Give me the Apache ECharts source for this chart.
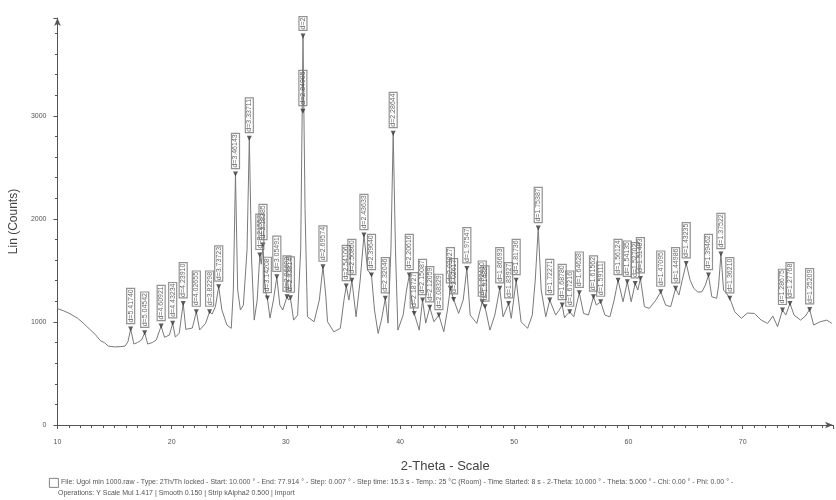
<!DOCTYPE html>
<html>
<head>
<meta charset="utf-8">
<script src="https://cdn.jsdelivr.net/npm/echarts@6/dist/echarts.min.js"></script>
<style>html,body{margin:0;padding:0;background:#fff}#c{width:836px;height:500px}</style>
</head>
<body>
<div id="c"></div>
<script>
// 2-Theta positions of the traced pattern
const twoTheta = [10.00,10.50,11.00,11.74,12.30,12.89,13.30,13.76,13.93,14.10,14.45,15.00,15.48,15.92,16.17,16.41,16.69,17.00,17.36,17.64,17.90,18.30,18.65,19.08,19.37,19.80,20.09,20.32,20.66,21.01,21.24,21.81,22.16,22.45,22.97,23.32,23.54,23.83,24.12,24.40,24.84,25.22,25.40,25.59,25.78,26.02,26.28,26.60,26.80,27.00,27.23,27.49,27.72,27.85,28.00,28.18,28.38,28.61,28.91,29.21,29.47,29.73,30.10,30.25,30.40,30.68,31.03,31.30,31.50,31.68,31.89,32.47,32.93,33.25,33.50,33.65,34.20,34.77,35.09,35.29,35.52,35.78,36.15,36.51,36.84,37.16,37.50,37.76,38.08,38.37,38.71,38.95,39.20,39.40,39.60,39.81,40.27,40.57,40.81,41.00,41.24,41.68,41.97,42.25,42.60,42.97,43.40,43.83,44.15,44.41,44.69,45.13,45.53,45.85,46.14,46.72,47.20,47.44,47.87,48.30,48.73,49.02,49.51,49.74,50.17,50.60,51.17,51.58,51.84,52.10,52.36,52.76,53.11,53.63,53.90,54.20,54.40,54.60,54.86,55.21,55.70,56.07,56.50,56.94,57.19,57.57,57.94,58.38,58.75,59.09,59.53,59.90,60.24,60.59,60.82,61.05,61.40,61.83,62.40,62.83,63.26,63.70,64.13,64.42,64.71,65.06,65.40,65.72,66.09,66.44,66.74,67.01,67.30,67.73,67.90,68.10,68.33,68.59,68.88,69.31,69.89,70.41,71.04,71.62,72.19,72.65,73.06,73.49,73.78,74.15,74.50,75.07,75.50,75.87,76.22,76.79,77.37,77.81];
// Lin (Counts) at those positions
const counts = [1130,1110,1085,1038,985,922,880,818,834,800,766,758,760,766,808,931,786,800,825,895,786,800,825,960,851,873,987,854,889,1180,928,941,1099,922,986,1099,1077,1148,1342,1116,970,938,1310,2435,1310,1116,1164,1700,2784,1600,1018,1212,1650,1560,1746,1310,1232,1038,1212,1438,1164,1116,1245,1212,1235,1018,1067,1700,3776,2100,1050,1002,1212,1536,1250,1002,905,938,1212,1348,1212,1406,1050,1406,1843,1503,1455,1116,889,1018,1229,989,1700,2832,1700,921,1067,1310,1455,1212,1083,921,1212,989,1142,1002,1067,905,1116,1326,1219,1083,1212,1520,1067,986,1196,1148,921,1067,1326,1050,1180,1035,1406,1002,938,1067,1406,1911,1310,1050,1212,1067,1110,1164,1040,1070,1099,1050,1283,1083,1067,1245,1164,1196,1067,1050,1212,1406,1196,1390,1196,1374,1310,1423,1148,1132,1212,1293,1164,1148,1326,1261,1406,1568,1406,1326,1290,1293,1358,1455,1245,1229,1358,1659,1310,1278,1229,1099,1035,1086,1083,1018,986,1057,954,1116,1067,1180,1067,1018,1057,1122,970,1002,1018,986];

// identified peaks
const peakTwoTheta = [16.41,17.64,19.08,20.09,21.01,22.16,23.32,24.12,25.59,26.80,27.72,28.00,28.38,29.21,30.10,30.40,31.50,31.49,33.25,35.29,35.78,36.84,37.50,38.71,39.40,40.81,41.24,41.97,42.60,43.40,44.41,44.69,45.85,47.20,47.44,48.73,49.51,50.17,52.10,53.11,54.20,54.86,55.70,56.94,57.57,59.09,59.90,60.59,61.05,62.83,64.13,65.06,67.01,68.10,68.88,73.49,74.15,75.87];
const peakCounts = [931,895,960,987,1180,1099,1099,1342,2435,2784,1650,1746,1232,1438,1245,1235,3776,3046,1536,1348,1406,1843,1455,1229,2832,1455,1083,1212,1142,1067,1326,1219,1520,1196,1148,1326,1180,1406,1911,1212,1164,1099,1283,1245,1196,1406,1390,1374,1423,1293,1326,1568,1455,1659,1229,1116,1180,1122];
const peakLabels = ["d=5.41740","d=5.04542","d=4.60921","d=4.43234","d=4.23910","d=4.02655","d=3.82298","d=3.73723","d=3.46143","d=3.33711","d=3.21557","d=3.18385","d=3.14208","d=3.05491","d=2.96693","d=2.93814","d=2","d=2.84905","d=2.69574","d=2.54106","d=2.50860","d=2.43633","d=2.39640","d=2.32046","d=2.28644","d=2.20616","d=2.18727","d=2.15087","d=2.12059","d=2.08329","d=2.03827","d=2.02617","d=1.97547","d=1.92410","d=1.91488","d=1.86693","d=1.83927","d=1.81736","d=1.75387","d=1.72271","d=1.68780","d=1.67216","d=1.64628","d=1.61562","d=1.59111","d=1.56124","d=1.54135","d=1.52702","d=1.51483","d=1.47095","d=1.44986","d=1.43235","d=1.39462","d=1.37522","d=1.36210","d=1.28675","d=1.27768","d=1.25209"];

const xMin = 10, xMax = 77.914, xStep = 10;
const yMin = 0, yMax = 3950, yStep = 1000;

const footer1 = "File: Ugol min 1000.raw - Type: 2Th/Th locked - Start: 10.000 \u00b0 - End: 77.914 \u00b0 - Step: 0.007 \u00b0 - Step time: 15.3 s - Temp.: 25 \u00b0C (Room) - Time Started: 8 s - 2-Theta: 10.000 \u00b0 - Theta: 5.000 \u00b0 - Chi: 0.00 \u00b0 - Phi: 0.00 \u00b0 -";
const footer2 = "Operations: Y Scale Mul 1.417 | Smooth 0.150 | Strip kAlpha2 0.500 | Import";

const chart = echarts.init(document.getElementById('c'), null, {renderer: 'canvas'});
const axisCol = '#555';
chart.setOption({
  animation: false,
  backgroundColor: '#fff',
  grid: {left: 46.5, right: 3, top: 18, bottom: 75},
  xAxis: {
    type: 'value', min: xMin, max: xMax, interval: xStep,
    name: '2-Theta - Scale', nameLocation: 'middle', nameGap: 35,
    nameTextStyle: {fontFamily: 'Liberation Sans', fontSize: 13, color: '#444'},
    axisLine: {onZero: false, lineStyle: {color: axisCol, width: 1}, symbol: ['none', 'arrow'], symbolSize: [5, 8]},
    axisTick: {show: true, length: 4, inside: false, lineStyle: {color: axisCol}},
    minorTick: {show: true, splitNumber: 10, length: 3, lineStyle: {color: axisCol}},
    axisLabel: {fontSize: 7, color: '#555', margin: 14, fontFamily: 'Liberation Sans',
      formatter: v => (Math.abs(v % 10) < 1e-6 ? String(v) : '')},
    splitLine: {show: false}
  },
  yAxis: {
    type: 'value', min: yMin, max: yMax, interval: yStep,
    name: 'Lin (Counts)', nameLocation: 'middle', nameGap: 32, nameRotate: 90,
    nameTextStyle: {fontFamily: 'Liberation Sans', fontSize: 12, color: '#444'},
    axisLine: {show: true, lineStyle: {color: axisCol, width: 1}, symbol: ['none', 'arrow'], symbolSize: [5, 8]},
    axisTick: {show: true, length: 4, lineStyle: {color: axisCol}},
    minorTick: {show: true, splitNumber: 5, length: 2.5, lineStyle: {color: axisCol}},
    axisLabel: {fontSize: 7, color: '#555', margin: 11, fontFamily: 'Liberation Sans',
      formatter: v => (v % 1000 === 0 ? String(v) : '')},
    splitLine: {show: false}
  },
  series: [
    {
      type: 'line',
      data: twoTheta.map((t, i) => [t, counts[i]]),
      showSymbol: false,
      lineStyle: {color: '#7a7a7a', width: 1},
      z: 2
    },
    {
      type: 'scatter',
      data: peakTwoTheta.map((t, i) => ({value: [t, peakCounts[i]], name: peakLabels[i]})),
      symbol: 'triangle', symbolRotate: 180, symbolSize: [5, 5],
      itemStyle: {color: '#333'},
      z: 3,
      label: {
        show: true, position: 'top', rotate: 90, align: 'left', verticalAlign: 'middle',
        distance: 3, formatter: p => p.name,
        fontSize: 7, color: '#444', fontFamily: 'Liberation Sans',
        borderColor: '#777', borderWidth: 0.6, padding: [1, 1, 0, 1], backgroundColor: 'rgba(255,255,255,0)'
      }
    }
  ],
  graphic: [
    {type: 'rect', left: 49, top: 478, shape: {width: 9, height: 9}, style: {fill: '#fff', stroke: '#666', lineWidth: 0.8}},
    {type: 'text', left: 61, top: 479, style: {text: footer1, fontSize: 7, fill: '#555', fontFamily: 'Liberation Sans'}},
    {type: 'text', left: 58, top: 490, style: {text: footer2, fontSize: 7, fill: '#555', fontFamily: 'Liberation Sans'}}
  ]
});
</script>
</body>
</html>
